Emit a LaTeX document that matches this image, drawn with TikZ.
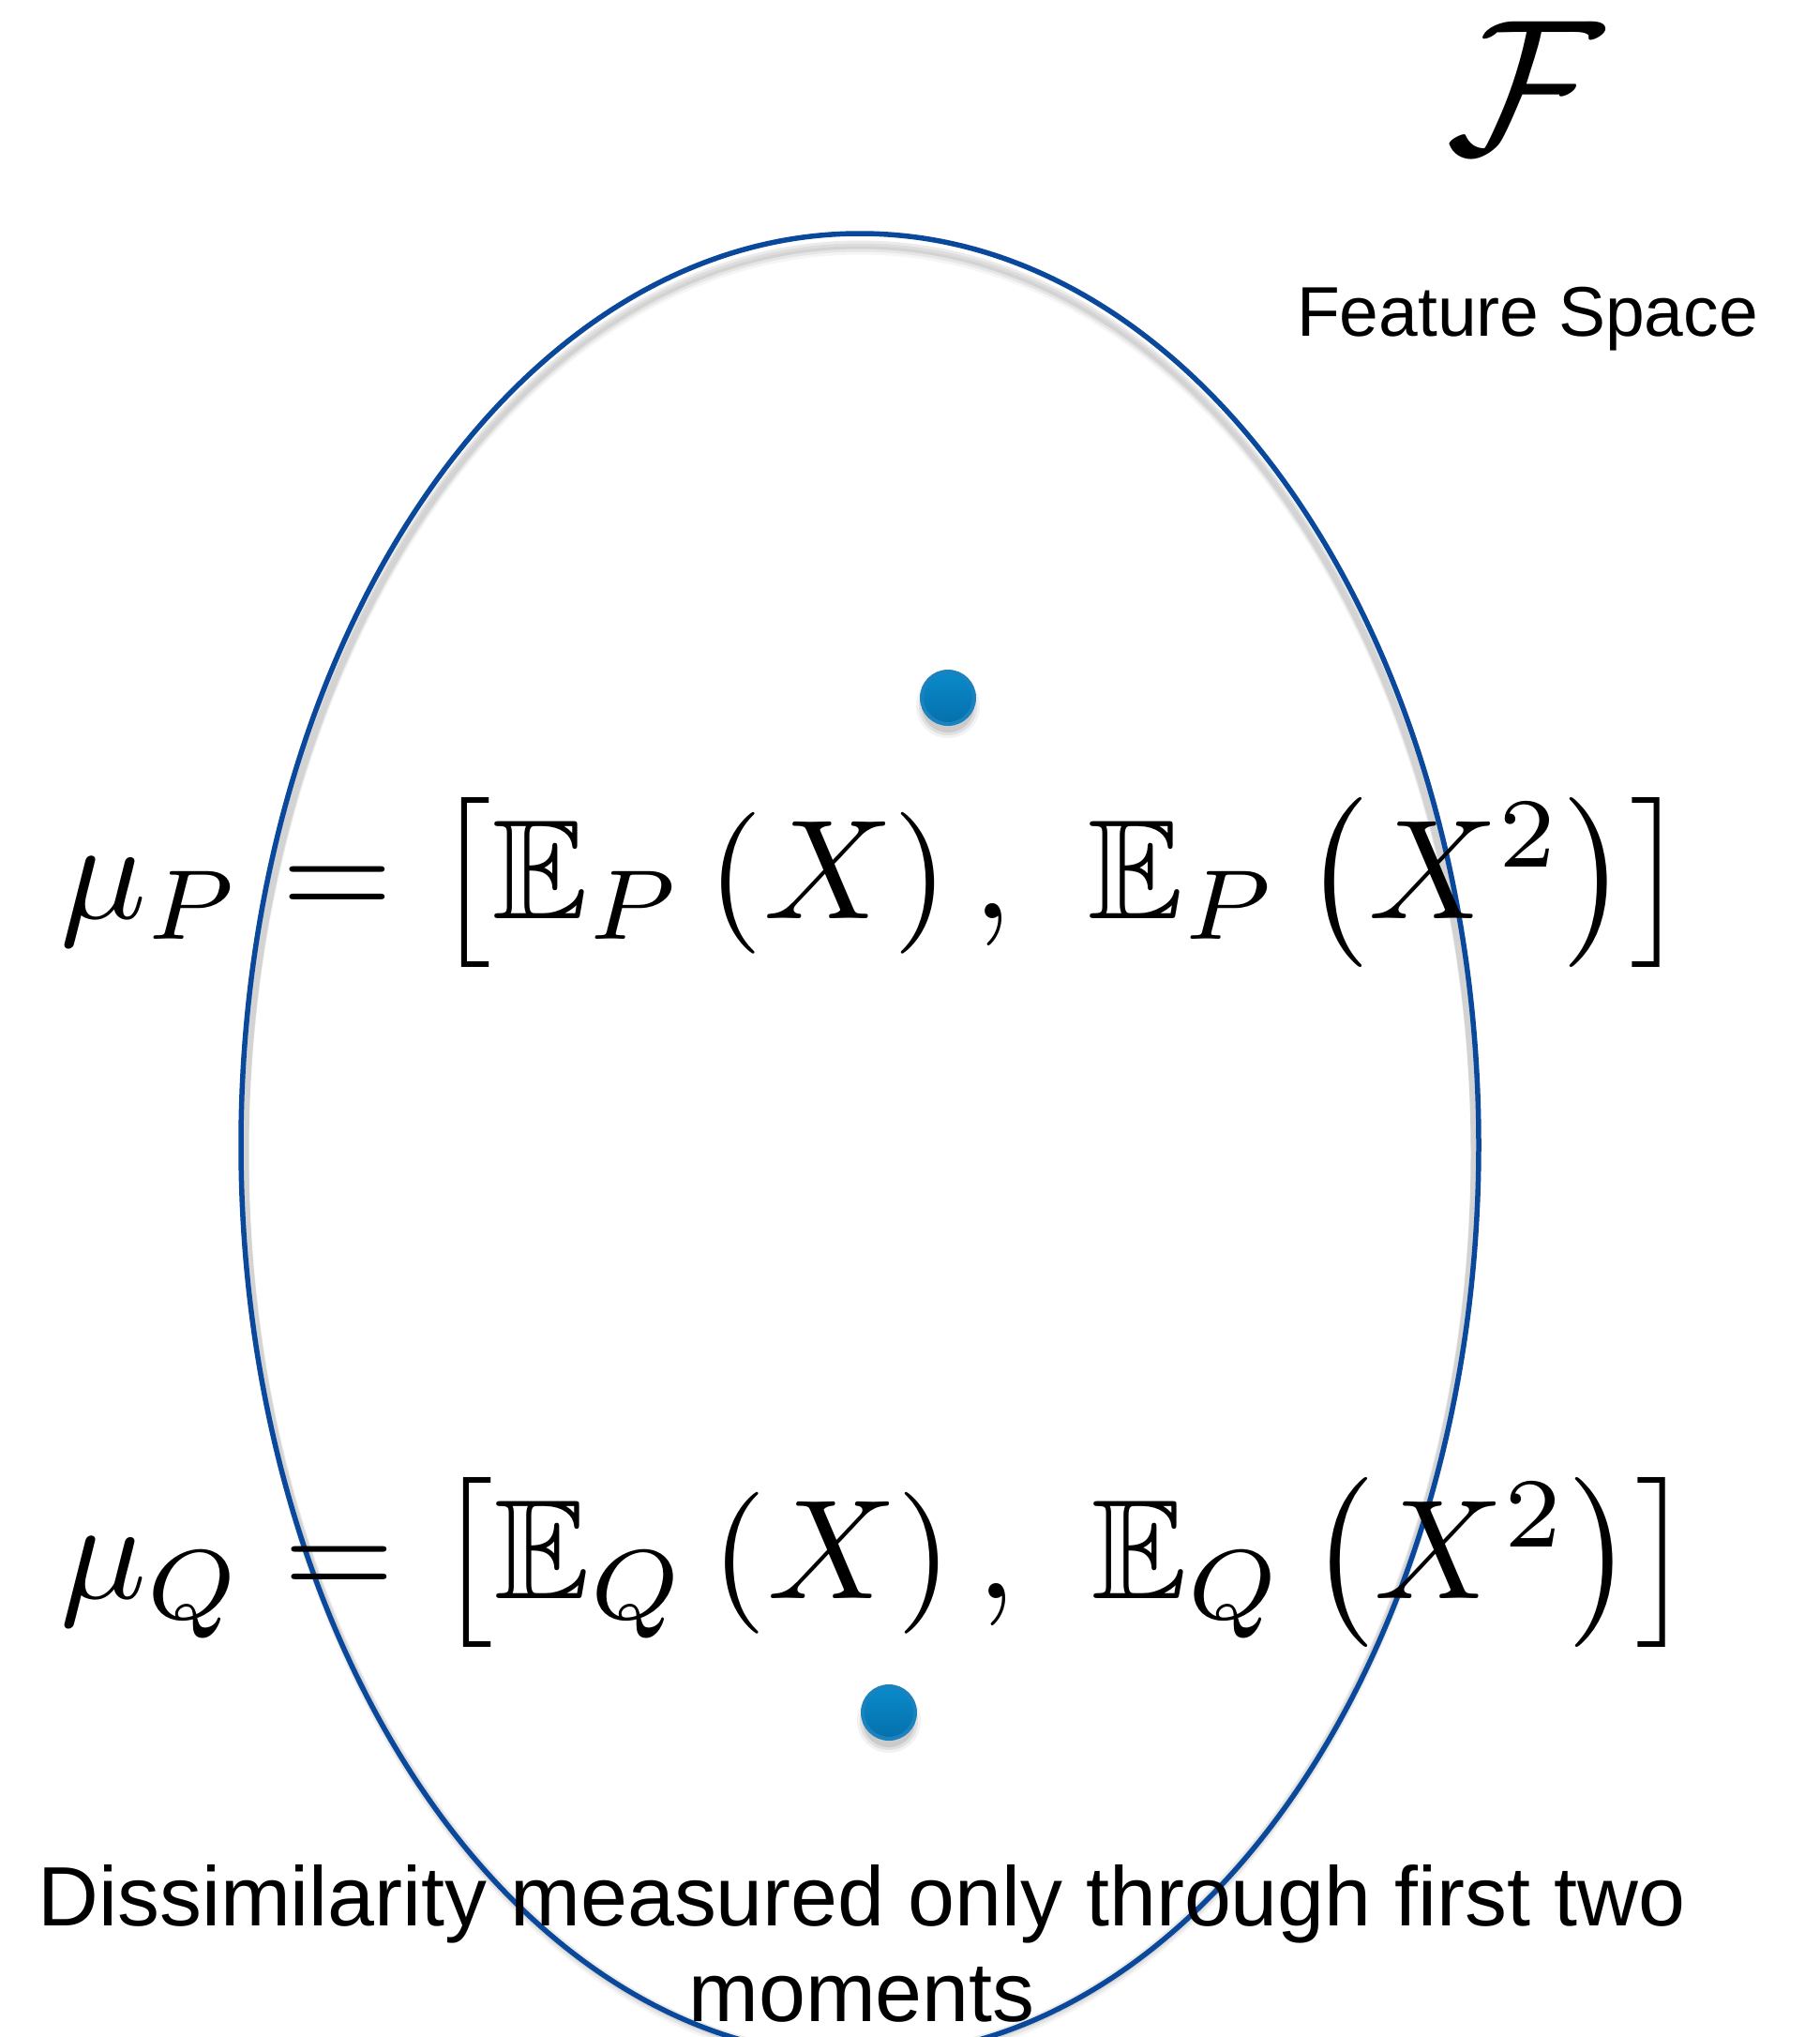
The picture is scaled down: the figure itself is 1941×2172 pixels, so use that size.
\documentclass[tikz,border=0pt]{standalone}
\usepackage{amssymb}
\usepackage{graphicx}
\usepackage{fontspec}
\setmainfont{Liberation Sans}
\definecolor{ellblue}{RGB}{10,72,156}
\definecolor{dotring}{RGB}{28,130,190}
\definecolor{dottop}{RGB}{10,138,202}
\definecolor{dotbot}{RGB}{5,112,172}
\tikzset{
  eqtext/.style={anchor=base west, inner sep=0pt},
  labeltext/.style={inner sep=0pt, font=\fontsize{75}{75}\selectfont},
  captext/.style={inner sep=0pt, anchor=base, font=\fontsize{89.8}{102}\selectfont},
  featdot/.style={circle, minimum size=56pt, inner sep=0pt, draw=dotring, line width=4pt, top color=dottop, bottom color=dotbot},
}
\begin{document}
\begin{tikzpicture}[x=1pt,y=-1pt]
\useasboundingbox (0,0) rectangle (1941,2172);
\fill[white] (0,0) rectangle (1941,2172);
\begin{scope}
\clip (0,0) rectangle (1941,2172);
% soft shadow of the ellipse
\foreach \d/\o in {12/0.04,9/0.06,6/0.08}{
  \draw[black, opacity=\o, line width=9pt] (917,1221+\d) ellipse [x radius=656, y radius=966];
}
\draw[ellblue, line width=5.5pt] (917,1221) ellipse [x radius=660, y radius=972];
\end{scope}
% dot shadows
\foreach \r/\o in {34/0.05,31/0.07,28/0.09}{
  \fill[black, opacity=\o] (1011,753) circle [radius=\r];
  \fill[black, opacity=\o] (948,1835) circle [radius=\r];
}
\node[featdot] (dotP) at (1011,744) {};
\node[featdot] (dotQ) at (948,1826) {};
\node[inner sep=0pt, anchor=base] (F) at (1626,163) {\scalebox{20.5}{$\mathcal{F}$}};
\node[labeltext, anchor=base] (fs) at (1629,358) {Feature Space};
\node[eqtext] (muP) at (64,979) {\scalebox{15.28}[15.1]{$\mu_P = \left[\mathbb{E}_P\left(X\right),\ \mskip1.5mu\mathbb{E}_P\left(X^2\right)\right]$}};
\node[eqtext] (muQ) at (64,1704) {\scalebox{15.28}[15.1]{$\mu_Q = \left[\mathbb{E}_Q\left(X\right),\ \mskip1.5mu\mathbb{E}_Q\left(X^2\right)\right]$}};
\node[captext] (cap1) at (919,2053) {Dissimilarity measured only through first two};
\node[captext] (cap2) at (919,2155) {moments};
\end{tikzpicture}
\end{document}
